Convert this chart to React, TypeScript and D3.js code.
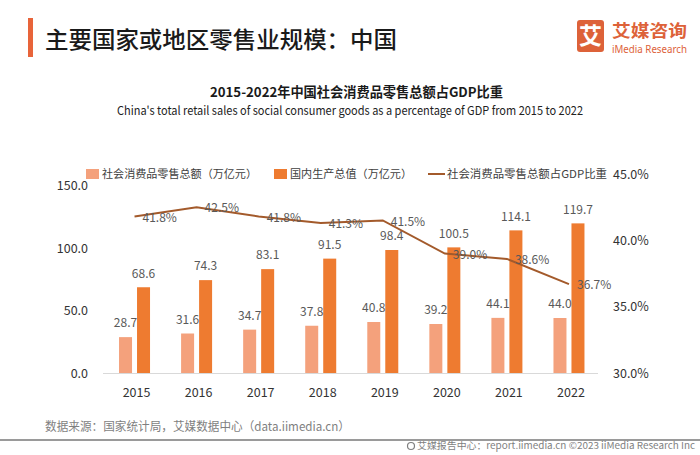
import React from "react";
import * as d3 from "d3";

const years = ["2015", "2016", "2017", "2018", "2019", "2020", "2021", "2022"];
const retailSales = [28.7, 31.6, 34.7, 37.8, 40.8, 39.2, 44.1, 44.0];
const gdp = [68.6, 74.3, 83.1, 91.5, 98.4, 100.5, 114.1, 119.7];
const ratio = [41.8, 42.5, 41.8, 41.3, 41.5, 39.0, 38.6, 36.7];
const leftTicks = [0, 50, 100, 150];
const rightTicks = [30, 35, 40, 45];
const legendLabels = ["社会消费品零售总额（万亿元）", "国内生产总值（万亿元）", "社会消费品零售总额占GDP比重"];

const W = 700;
const H = 455;
const LIGHT = "#F4A17C";
const DARK = "#EE7B30";
const LINE = "#A35A2B";
const FONT = "'Noto Sans CJK SC', 'Noto Sans', sans-serif";

export default function App() {
  const x = d3.scaleBand<string>().domain(years).range([103.5, 600]).padding(0);
  const yL = d3.scaleLinear().domain([0, 150]).range([373, 185.5]);
  const yR = d3.scaleLinear().domain([30, 45]).range([373, 174]);
  const barW = 13;
  const gap = 5;
  const cx = (y: string) => (x(y) as number) + x.bandwidth() / 2;
  const line = d3
    .line<number>()
    .x((_, i) => cx(years[i]))
    .y((d) => yR(d));

  return (
    <svg
      width={W}
      height={H}
      style={{ position: "absolute", left: 0, top: 0, background: "#fff" }}
      fontFamily={FONT}
    >
      <rect width={W} height={H} fill="#fff" />
      {/* Header */}
      <rect x={28} y={18} width={5} height={39} fill="#E8643A" />
      <text x={45} y={40} dy="0.36em" fontSize={23} fontWeight={500} fill="#1a1a1a" textLength={352} lengthAdjust="spacingAndGlyphs">
        主要国家或地区零售业规模：中国
      </text>
      {/* Logo */}
      <rect x={577} y={20} width={27} height={32} rx={3} fill="#DD6239" />
      <text x={590.5} y={36} dy="0.36em" textAnchor="middle" fontSize={23} fontWeight={700} fill="#fff">
        艾
      </text>
      <text x={612} y={30.5} dy="0.36em" fontSize={17} fontWeight={700} fill="#DD6239" textLength={75} lengthAdjust="spacingAndGlyphs">
        艾媒咨询
      </text>
      <text x={612} y={49} dy="0.36em" fontSize={10} fontFamily="'Noto Sans', sans-serif" fill="#DD6239" textLength={75} lengthAdjust="spacingAndGlyphs">
        iMedia Research
      </text>
      {/* Subtitles */}
      <text x={356.5} y={92} dy="0.36em" textAnchor="middle" fontSize={13.5} fontWeight={700} fill="#1a1a1a" textLength={293} lengthAdjust="spacingAndGlyphs">
        2015-2022年中国社会消费品零售总额占GDP比重
      </text>
      <text x={350} y={111} dy="0.36em" textAnchor="middle" fontSize={12} fill="#222" textLength={466} lengthAdjust="spacingAndGlyphs">
        China's total retail sales of social consumer goods as a percentage of GDP from 2015 to 2022
      </text>

      {/* Legend */}
      <g fontSize={11} fill="#404040">
        <rect x={86} y={169} width={13} height={10} fill={LIGHT} />
        <text x={102} y={174} dy="0.36em" textLength={155} lengthAdjust="spacingAndGlyphs">{legendLabels[0]}</text>
        <rect x={274} y={169} width={13} height={10} fill={DARK} />
        <text x={290} y={174} dy="0.36em" textLength={122} lengthAdjust="spacingAndGlyphs">{legendLabels[1]}</text>
        <line x1={428} x2={445} y1={174} y2={174} stroke={LINE} strokeWidth={2} />
        <text x={447} y={174} dy="0.36em" textLength={160} lengthAdjust="spacingAndGlyphs">{legendLabels[2]}</text>
      </g>

      {/* Left axis */}
      <g fontSize={12.5} fill="#333" textAnchor="end">
        {leftTicks.map((t) => (
          <text key={t} x={88} y={yL(t)} dy="0.36em">
            {t.toFixed(1)}
          </text>
        ))}
      </g>
      {/* Right axis */}
      <g fontSize={12.5} fill="#333" textAnchor="start">
        {rightTicks.map((t) => (
          <text key={t} x={613} y={yR(t)} dy="0.36em">
            {t.toFixed(1)}%
          </text>
        ))}
      </g>

      {/* Bars */}
      {years.map((y, i) => {
        const c = cx(y);
        const x1 = c - gap / 2 - barW;
        const x2 = c + gap / 2;
        return (
          <g key={y}>
            <rect x={x1} y={yL(retailSales[i])} width={barW} height={yL(0) - yL(retailSales[i])} fill={LIGHT} />
            <rect x={x2} y={yL(gdp[i])} width={barW} height={yL(0) - yL(gdp[i])} fill={DARK} />
            <text x={x1 + barW / 2} y={yL(retailSales[i]) - 14} dy="0.36em" textAnchor="middle" fontSize={12} fill="#595959">
              {retailSales[i].toFixed(1)}
            </text>
            <text x={x2 + barW / 2} y={yL(gdp[i]) - 14} dy="0.36em" textAnchor="middle" fontSize={12} fill="#595959">
              {gdp[i].toFixed(1)}
            </text>
          </g>
        );
      })}

      {/* Baseline */}
      <line x1={103} x2={598} y1={373.5} y2={373.5} stroke="#D9D9D9" strokeWidth={1} />

      {/* Line */}
      <path d={line(ratio) || ""} fill="none" stroke={LINE} strokeWidth={2} />
      {ratio.map((r, i) => (
        <text key={i} x={cx(years[i]) + 8} y={yR(r) + 1} dy="0.36em" fontSize={12} fill="#595959">
          {r.toFixed(1)}%
        </text>
      ))}

      {/* X labels */}
      <g fontSize={12.5} fill="#333" textAnchor="middle">
        {years.map((y) => (
          <text key={y} x={cx(y) + 2} y={392} dy="0.36em">
            {y}
          </text>
        ))}
      </g>

      {/* Footer */}
      <text x={45} y={427} dy="0.36em" fontSize={12} fill="#7F7F7F" textLength={305} lengthAdjust="spacingAndGlyphs">
        数据来源：国家统计局，艾媒数据中心（data.iimedia.cn）
      </text>
      <line x1={0} x2={W} y1={440} y2={440} stroke="#9A9A9A" strokeWidth={2} />
      <circle cx={411} cy={446} r={3.5} fill="none" stroke="#7F7F7F" strokeWidth={1.2} />
      <text x={417} y={446} dy="0.36em" fontSize={9.5} fill="#7F7F7F" textLength={278} lengthAdjust="spacingAndGlyphs">
        艾媒报告中心：report.iimedia.cn  ©2023  iiMedia Research Inc
      </text>
    </svg>
  );
}
